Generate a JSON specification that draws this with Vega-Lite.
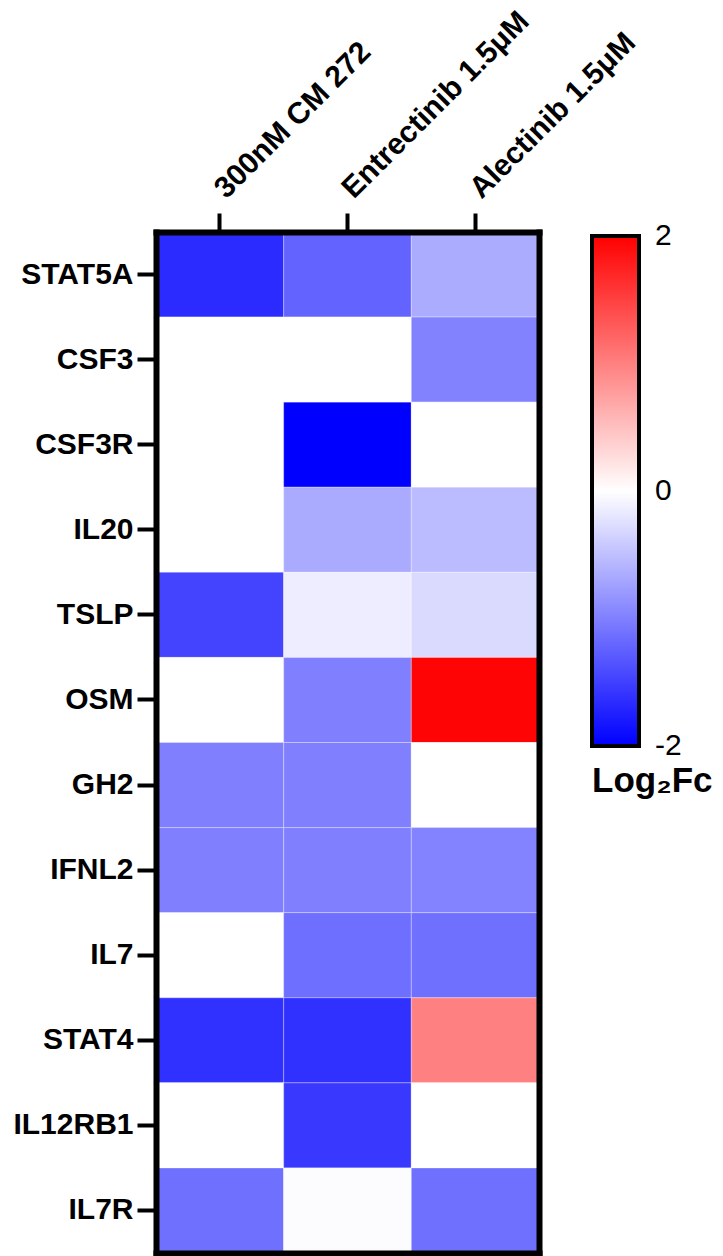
{
  "$schema": "https://vega.github.io/schema/vega-lite/v6.json",
  "autosize": "none",
  "padding": {"left": 156, "top": 232, "right": 184, "bottom": 3},
  "width": 383,
  "height": 1021,
  "background": "white",
  "config": {
    "font": "Liberation Sans",
    "view": {"stroke": null},
    "axis": {"grid": false, "labelColor": "black", "tickColor": "black", "domainColor": "black", "domainWidth": 6, "domainCap": "square", "labelFont": "Liberation Sans"}
  },
  "data": {
    "values": [
      {"gene": "STAT5A", "treatment": "300nM CM 272", "value": -1.66},
      {"gene": "STAT5A", "treatment": "Entrectinib 1.5μM", "value": -1.22},
      {"gene": "STAT5A", "treatment": "Alectinib 1.5μM", "value": -0.65},
      {"gene": "CSF3", "treatment": "300nM CM 272", "value": 0},
      {"gene": "CSF3", "treatment": "Entrectinib 1.5μM", "value": 0},
      {"gene": "CSF3", "treatment": "Alectinib 1.5μM", "value": -0.98},
      {"gene": "CSF3R", "treatment": "300nM CM 272", "value": 0},
      {"gene": "CSF3R", "treatment": "Entrectinib 1.5μM", "value": -2.0},
      {"gene": "CSF3R", "treatment": "Alectinib 1.5μM", "value": 0},
      {"gene": "IL20", "treatment": "300nM CM 272", "value": 0},
      {"gene": "IL20", "treatment": "Entrectinib 1.5μM", "value": -0.67},
      {"gene": "IL20", "treatment": "Alectinib 1.5μM", "value": -0.53},
      {"gene": "TSLP", "treatment": "300nM CM 272", "value": -1.47},
      {"gene": "TSLP", "treatment": "Entrectinib 1.5μM", "value": -0.14},
      {"gene": "TSLP", "treatment": "Alectinib 1.5μM", "value": -0.29},
      {"gene": "OSM", "treatment": "300nM CM 272", "value": 0},
      {"gene": "OSM", "treatment": "Entrectinib 1.5μM", "value": -1.0},
      {"gene": "OSM", "treatment": "Alectinib 1.5μM", "value": 1.97},
      {"gene": "GH2", "treatment": "300nM CM 272", "value": -1.0},
      {"gene": "GH2", "treatment": "Entrectinib 1.5μM", "value": -1.0},
      {"gene": "GH2", "treatment": "Alectinib 1.5μM", "value": 0},
      {"gene": "IFNL2", "treatment": "300nM CM 272", "value": -1.0},
      {"gene": "IFNL2", "treatment": "Entrectinib 1.5μM", "value": -1.0},
      {"gene": "IFNL2", "treatment": "Alectinib 1.5μM", "value": -0.97},
      {"gene": "IL7", "treatment": "300nM CM 272", "value": 0},
      {"gene": "IL7", "treatment": "Entrectinib 1.5μM", "value": -1.14},
      {"gene": "IL7", "treatment": "Alectinib 1.5μM", "value": -1.12},
      {"gene": "STAT4", "treatment": "300nM CM 272", "value": -1.62},
      {"gene": "STAT4", "treatment": "Entrectinib 1.5μM", "value": -1.62},
      {"gene": "STAT4", "treatment": "Alectinib 1.5μM", "value": 1.0},
      {"gene": "IL12RB1", "treatment": "300nM CM 272", "value": 0},
      {"gene": "IL12RB1", "treatment": "Entrectinib 1.5μM", "value": -1.56},
      {"gene": "IL12RB1", "treatment": "Alectinib 1.5μM", "value": 0},
      {"gene": "IL7R", "treatment": "300nM CM 272", "value": -1.12},
      {"gene": "IL7R", "treatment": "Entrectinib 1.5μM", "value": -0.02},
      {"gene": "IL7R", "treatment": "Alectinib 1.5μM", "value": -1.12}
    ]
  },
  "layer": [
    {
      "mark": {"type": "rect", "stroke": "white", "strokeWidth": 1, "strokeOpacity": 0.35},
      "encoding": {
        "x": {
          "field": "treatment",
          "type": "nominal",
          "sort": ["300nM CM 272", "Entrectinib 1.5μM", "Alectinib 1.5μM"],
          "scale": {"paddingInner": 0, "paddingOuter": 0},
          "axis": {
            "orient": "top",
            "title": null,
            "zindex": 2,
            "labelAngle": -45,
            "labelAlign": "left",
            "labelBaseline": "middle",
            "labelFontSize": 30,
            "labelFontWeight": "bold",
            "labelPadding": 20,
            "tickSize": 19,
            "tickWidth": 4,
            "labelLimit": 400
          }
        },
        "y": {
          "field": "gene",
          "type": "nominal",
          "sort": ["STAT5A", "CSF3", "CSF3R", "IL20", "TSLP", "OSM", "GH2", "IFNL2", "IL7", "STAT4", "IL12RB1", "IL7R"],
          "scale": {"paddingInner": 0, "paddingOuter": 0},
          "axis": {
            "orient": "left",
            "title": null,
            "zindex": 2,
            "labelFontSize": 30,
            "labelFontWeight": "bold",
            "labelPadding": 4,
            "tickSize": 19,
            "tickWidth": 4,
            "labelLimit": 300
          }
        },
        "color": {
          "field": "value",
          "type": "quantitative",
          "scale": {"domain": [-2, 0, 2], "range": ["#0000ff", "#ffffff", "#ff0000"], "interpolate": "rgb"},
          "legend": {
            "title": "Log₂Fc",
            "orient": "none",
            "legendX": 436,
            "legendY": 4,
            "padding": 0,
            "direction": "vertical",
            "gradientLength": 510,
            "gradientThickness": 47,
            "gradientStrokeColor": "black",
            "gradientStrokeWidth": 4,
            "values": [-2, 0, 2],
            "labelExpr": "'' + datum.value",
            "labelFontSize": 30,
            "labelColor": "black",
            "labelOffset": 16,
            "labelOverlap": false,
            "encode": {"labels": {"update": {"baseline": {"value": "middle"}}}},
            "titleOrient": "bottom",
            "titleAnchor": "start",
            "titleFontSize": 35,
            "titleFontWeight": "bold",
            "titleColor": "black",
            "titlePadding": 3,
            "titleLimit": 300
          }
        }
      }
    },
    {
      "mark": {"type": "rect", "stroke": "white", "strokeWidth": 1, "strokeOpacity": 0.35},
      "encoding": {
        "x": {
          "field": "treatment",
          "type": "nominal",
          "sort": ["300nM CM 272", "Entrectinib 1.5μM", "Alectinib 1.5μM"],
          "axis": {"orient": "bottom", "title": null, "labels": false, "ticks": false, "zindex": 2}
        },
        "y": {
          "field": "gene",
          "type": "nominal",
          "sort": ["STAT5A", "CSF3", "CSF3R", "IL20", "TSLP", "OSM", "GH2", "IFNL2", "IL7", "STAT4", "IL12RB1", "IL7R"],
          "axis": {"orient": "right", "title": null, "labels": false, "ticks": false, "zindex": 2}
        },
        "color": {"field": "value", "type": "quantitative"}
      }
    }
  ],
  "resolve": {"axis": {"x": "independent", "y": "independent"}}
}
